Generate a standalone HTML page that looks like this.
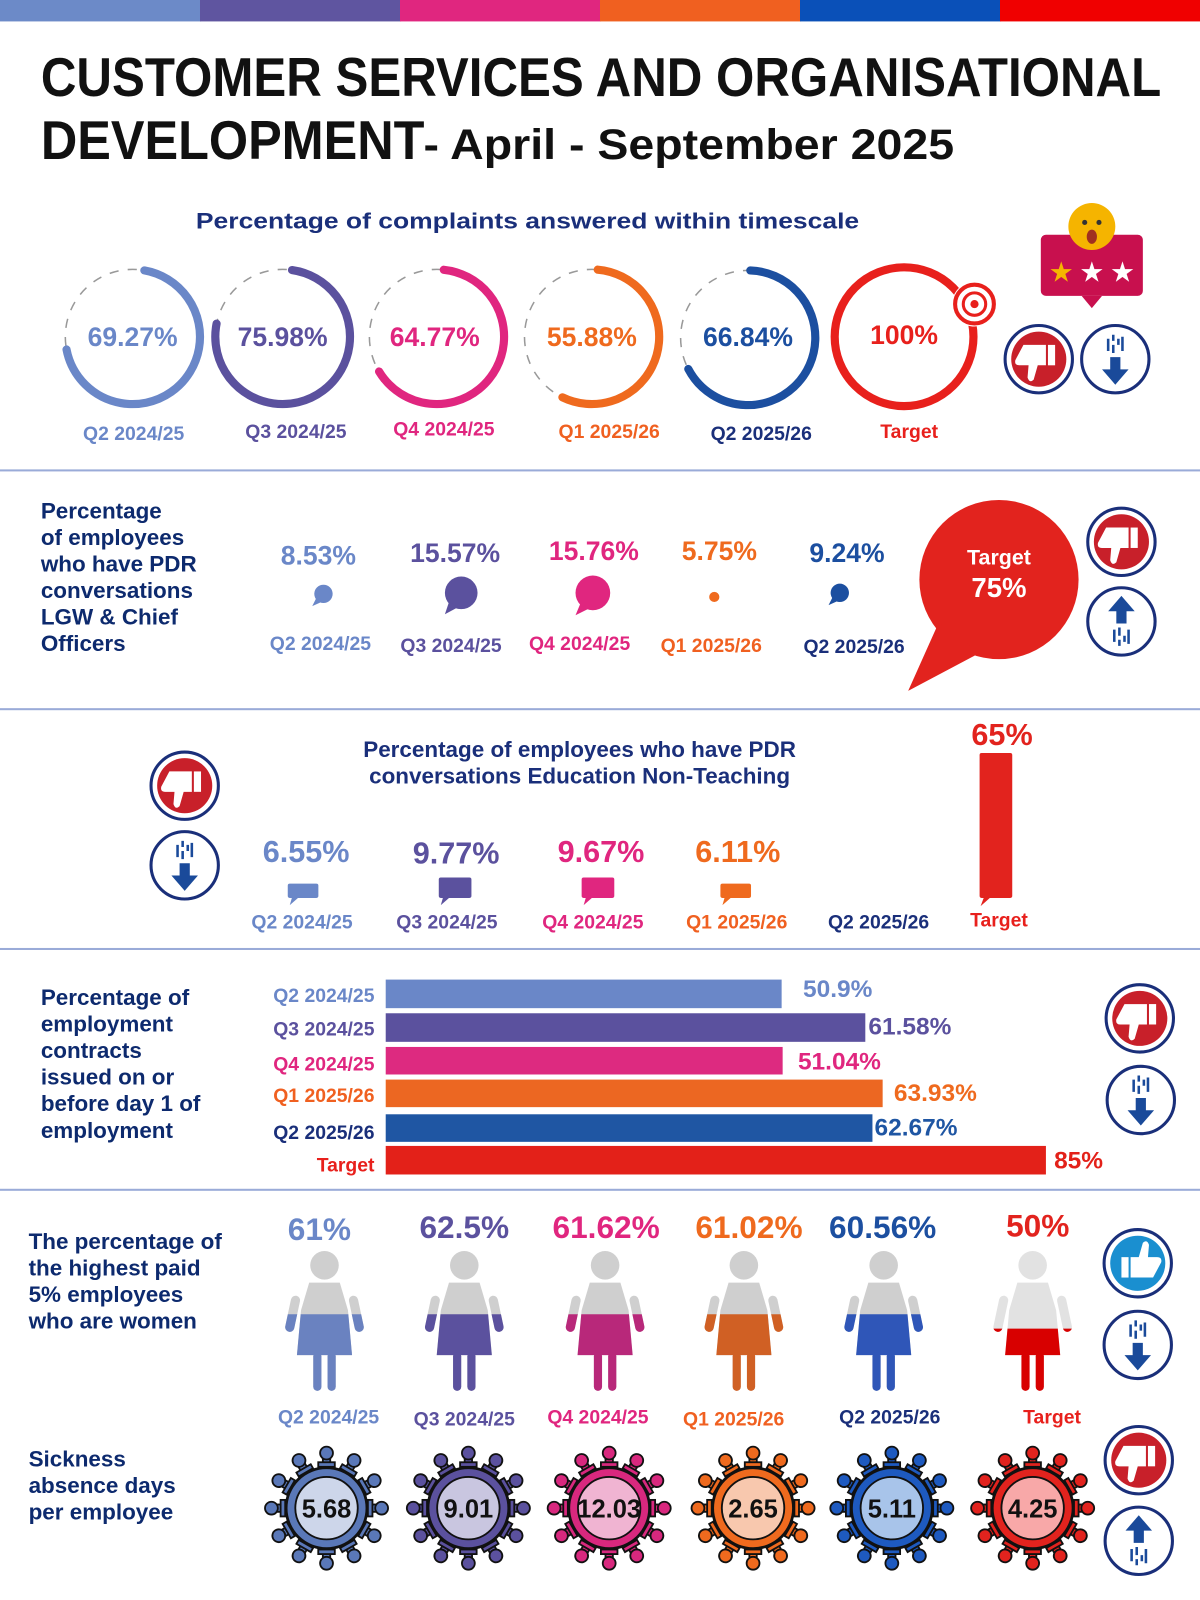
<!DOCTYPE html>
<html><head><meta charset="utf-8"><style>
html,body{margin:0;padding:0;background:#fff}
svg{display:block}
text{font-family:"Liberation Sans",sans-serif;font-weight:bold}
</style></head><body>
<svg width="1200" height="1600" viewBox="0 0 1176 1568" xmlns="http://www.w3.org/2000/svg">
<defs>
<g id="thd">
 <circle r="33" fill="#fff" stroke="#1a2f7a" stroke-width="3"/>
 <circle r="27" fill="#c8202a"/>
 <path d="M-15,-14 h22 v20 h-8 l-4,14 q-4,4 -6,-2 l1,-12 h-9 q-5,0 -4,-5 z" fill="#fff"/>
 <rect x="9" y="-14" width="7" height="20" fill="#fff"/>
</g>
<g id="thu">
 <circle r="33" fill="#fff" stroke="#1a2f7a" stroke-width="3"/>
 <circle r="27" fill="#1a8fd0"/>
 <g transform="rotate(180)"><path d="M-15,-14 h22 v20 h-8 l-4,14 q-4,4 -6,-2 l1,-12 h-9 q-5,0 -4,-5 z" fill="#fff"/>
 <rect x="9" y="-14" width="7" height="20" fill="#fff"/></g>
</g>
<g id="adn">
 <circle r="33" fill="#fff" stroke="#1a2f7a" stroke-width="3"/>
 <path d="M-5,-2 h10 v12 h8 l-13,15 l-13,-15 h8 z" fill="#1a4a9a"/>
 <path d="M-7,-20 v12 M-2,-24 v6 M-2,-14 v8 M3,-20 v6 M7,-22 v14" stroke="#1a4a9a" stroke-width="2.5"/>
</g>
<g id="aup">
 <circle r="33" fill="#fff" stroke="#1a2f7a" stroke-width="3"/>
 <path d="M-5,2 h10 v-12 h8 l-13,-15 l-13,15 h8 z" fill="#1a4a9a"/>
 <path d="M-7,20 v-12 M-2,24 v-6 M-2,14 v-8 M3,20 v-6 M7,22 v-14" stroke="#1a4a9a" stroke-width="2.5"/>
</g>
<g id="fig">
 <circle cx="0" cy="0" r="14"/>
 <path d="M-15,17 h30 l8,27 l4,44 h-54 l4,-44 z"/>
 <rect x="-32" y="30" width="9" height="36" rx="4.5" transform="rotate(12 -27 30)"/>
 <rect x="23" y="30" width="9" height="36" rx="4.5" transform="rotate(-12 27 30)"/>
 <rect x="-11" y="85" width="8" height="38" rx="4"/>
 <rect x="3" y="85" width="8" height="38" rx="4"/>
</g>
<clipPath id="cl"><rect x="-60" y="48" width="120" height="120"/></clipPath>
<clipPath id="cl2"><rect x="-60" y="62" width="120" height="120"/></clipPath>
<g id="spk"><rect x="-4" y="-58" width="8" height="20"/><circle cx="0" cy="-60" r="7"/><rect x="-9" y="-50" width="18" height="5"/></g>
<g id="vir">
 <use href="#spk"/><use href="#spk" transform="rotate(30)"/><use href="#spk" transform="rotate(60)"/><use href="#spk" transform="rotate(90)"/><use href="#spk" transform="rotate(120)"/><use href="#spk" transform="rotate(150)"/><use href="#spk" transform="rotate(180)"/><use href="#spk" transform="rotate(210)"/><use href="#spk" transform="rotate(240)"/><use href="#spk" transform="rotate(270)"/><use href="#spk" transform="rotate(300)"/><use href="#spk" transform="rotate(330)"/>
 <circle r="44" stroke="#111" stroke-width="3"/>
</g>
</defs>

<rect x="0" y="0" width="197" height="21" fill="#6c8ac8"/>
<rect x="196" y="0" width="197" height="21" fill="#5f55a0"/>
<rect x="392" y="0" width="197" height="21" fill="#e0267f"/>
<rect x="588" y="0" width="197" height="21" fill="#f06020"/>
<rect x="784" y="0" width="197" height="21" fill="#0a50b8"/>
<rect x="980" y="0" width="196" height="21" fill="#f00000"/>

<text x="40" y="94" font-size="54" fill="#111" textLength="1098" lengthAdjust="spacingAndGlyphs">CUSTOMER SERVICES AND ORGANISATIONAL</text>
<text x="40" y="156" font-size="54" fill="#111" textLength="376" lengthAdjust="spacingAndGlyphs">DEVELOPMENT</text>
<text x="415" y="156" font-size="42" fill="#111" textLength="520" lengthAdjust="spacingAndGlyphs">- April - September 2025</text>

<text x="517" y="224" font-size="22" fill="#1a2f7a" text-anchor="middle" textLength="650" lengthAdjust="spacingAndGlyphs">Percentage of complaints answered within timescale</text>
<g fill="none">
 <circle cx="130" cy="330" r="66" stroke="#999" stroke-width="1.5" stroke-dasharray="9 9"/>
 <circle cx="130" cy="330" r="66" stroke="#6a87c8" stroke-width="8" pathLength="100" stroke-dasharray="69.27 100" stroke-linecap="round" transform="rotate(-80 130 330)"/>
 <circle cx="277" cy="330" r="66" stroke="#999" stroke-width="1.5" stroke-dasharray="9 9"/>
 <circle cx="277" cy="330" r="66" stroke="#5b519e" stroke-width="8" pathLength="100" stroke-dasharray="75.98 100" stroke-linecap="round" transform="rotate(-82 277 330)"/>
 <circle cx="428" cy="330" r="66" stroke="#999" stroke-width="1.5" stroke-dasharray="9 9"/>
 <circle cx="428" cy="330" r="66" stroke="#e0267f" stroke-width="8" pathLength="100" stroke-dasharray="64.77 100" stroke-linecap="round" transform="rotate(-84 428 330)"/>
 <circle cx="580" cy="330" r="66" stroke="#999" stroke-width="1.5" stroke-dasharray="9 9"/>
 <circle cx="580" cy="330" r="66" stroke="#ef6a1e" stroke-width="8" pathLength="100" stroke-dasharray="55.88 100" stroke-linecap="round" transform="rotate(-85 580 330)"/>
 <circle cx="733" cy="331" r="66" stroke="#999" stroke-width="1.5" stroke-dasharray="9 9"/>
 <circle cx="733" cy="331" r="66" stroke="#1c4fa0" stroke-width="8" pathLength="100" stroke-dasharray="66.84 100" stroke-linecap="round" transform="rotate(-88 733 331)"/>
 <circle cx="886" cy="330" r="68" stroke="#e8201c" stroke-width="8"/>
</g>
<g font-size="26" text-anchor="middle">
 <text x="130" y="339" fill="#6a87c8">69.27%</text>
 <text x="277" y="339" fill="#5b519e">75.98%</text>
 <text x="426" y="339" fill="#e0267f">64.77%</text>
 <text x="580" y="339" fill="#ef6a1e">55.88%</text>
 <text x="733" y="339" fill="#1c4fa0">66.84%</text>
 <text x="886" y="337" fill="#e8201c">100%</text>
</g>
<g font-size="19" text-anchor="middle" font-weight="normal">
 <text x="131" y="431" fill="#6a87c8">Q2 2024/25</text>
 <text x="290" y="429" fill="#5b519e">Q3 2024/25</text>
 <text x="435" y="427" fill="#e0267f">Q4 2024/25</text>
 <text x="597" y="429" fill="#f06020">Q1 2025/26</text>
 <text x="746" y="431" fill="#1a2f7a">Q2 2025/26</text>
 <text x="891" y="429" fill="#e8201c">Target</text>
</g>
<circle cx="955" cy="298" r="22" fill="#fff"/>
<circle cx="955" cy="298" r="19" fill="none" stroke="#e8201c" stroke-width="4"/>
<circle cx="955" cy="298" r="11" fill="none" stroke="#e8201c" stroke-width="3"/>
<circle cx="955" cy="298" r="4" fill="#e8201c"/>
<rect x="1020" y="230" width="100" height="60" rx="5" fill="#c8104e"/>
<path d="M1060,290 l10,12 l10,-12 z" fill="#c8104e"/>
<circle cx="1070" cy="222" r="23" fill="#f5b400"/>
<circle cx="1063" cy="218" r="2.5" fill="#333"/><circle cx="1077" cy="218" r="2.5" fill="#333"/>
<ellipse cx="1070" cy="232" rx="5" ry="7" fill="#a03020"/>
<g font-size="24" text-anchor="middle"><text x="1040" y="275" fill="#f5b400">★</text><text x="1070" y="275" fill="#fff">★</text><text x="1100" y="275" fill="#fff">★</text></g>
<use href="#thd" x="1018" y="352"/>
<use href="#adn" x="1093" y="352"/>
<rect x="0" y="460" width="1176" height="2" fill="#9aabd8"/>

<g font-size="22" fill="#0d2a6e">
 <text x="40" y="508">Percentage</text>
 <text x="40" y="534">of employees</text>
 <text x="40" y="560">who have PDR</text>
 <text x="40" y="586">conversations</text>
 <text x="40" y="612">LGW &amp; Chief</text>
 <text x="40" y="638">Officers</text>
</g>
<g font-size="26" text-anchor="middle">
 <text x="312" y="553" fill="#6a87c8">8.53%</text>
 <text x="446" y="551" fill="#5b519e">15.57%</text>
 <text x="582" y="549" fill="#e0267f">15.76%</text>
 <text x="705" y="549" fill="#ef6a1e">5.75%</text>
 <text x="830" y="551" fill="#1c4fa0">9.24%</text>
</g>
<circle cx="317" cy="582" r="9" fill="#6a87c8"/><path d="M310,586 l-4,8 l9,-4z" fill="#6a87c8"/>
<circle cx="452" cy="581" r="16" fill="#5b519e"/><path d="M440,590 l-4,12 l13,-7z" fill="#5b519e"/>
<circle cx="581" cy="581" r="17" fill="#e0267f"/><path d="M569,591 l-5,12 l14,-7z" fill="#e0267f"/>
<circle cx="700" cy="585" r="5" fill="#ef6a1e"/>
<circle cx="823" cy="581" r="9" fill="#1c4fa0"/><path d="M816,585 l-4,8 l9,-4z" fill="#1c4fa0"/>
<g font-size="19" text-anchor="middle" font-weight="normal">
 <text x="314" y="637" fill="#6a87c8">Q2 2024/25</text>
 <text x="442" y="639" fill="#5b519e">Q3 2024/25</text>
 <text x="568" y="637" fill="#e0267f">Q4 2024/25</text>
 <text x="697" y="639" fill="#f06020">Q1 2025/26</text>
 <text x="837" y="640" fill="#1a2f7a">Q2 2025/26</text>
</g>
<circle cx="979" cy="568" r="78" fill="#e2231e"/>
<path d="M920,610 L890,677 L960,640 z" fill="#e2231e"/>
<text x="979" y="553" font-size="21" fill="#fff" text-anchor="middle" font-weight="normal">Target</text>
<text x="979" y="585" font-size="27" fill="#fff" text-anchor="middle">75%</text>
<use href="#thd" x="1099" y="531"/>
<use href="#aup" x="1099" y="609"/>
<rect x="0" y="694" width="1176" height="2" fill="#9aabd8"/>

<g font-size="22" fill="#1a2f7a" text-anchor="middle">
 <text x="568" y="742">Percentage of employees who have PDR</text>
 <text x="568" y="768">conversations Education Non-Teaching</text>
</g>
<use href="#thd" x="181" y="770"/>
<use href="#adn" x="181" y="848"/>
<g font-size="30" text-anchor="middle">
 <text x="300" y="845" fill="#6a87c8">6.55%</text>
 <text x="447" y="846" fill="#5b519e">9.77%</text>
 <text x="589" y="845" fill="#e0267f">9.67%</text>
 <text x="723" y="845" fill="#ef6a1e">6.11%</text>
 <text x="982" y="730" fill="#e2231e">65%</text>
</g>
<rect x="282" y="866" width="30" height="14" rx="2" fill="#6a87c8"/><path d="M286,880 l-2,7 l8,-7z" fill="#6a87c8"/>
<rect x="430" y="860" width="32" height="20" rx="2" fill="#5b519e"/><path d="M434,880 l-2,7 l8,-7z" fill="#5b519e"/>
<rect x="570" y="860" width="32" height="20" rx="2" fill="#e0267f"/><path d="M574,880 l-2,7 l8,-7z" fill="#e0267f"/>
<rect x="706" y="866" width="30" height="14" rx="2" fill="#ef6a1e"/><path d="M710,880 l-2,7 l8,-7z" fill="#ef6a1e"/>
<rect x="960" y="738" width="32" height="142" rx="2" fill="#e2231e"/><path d="M964,880 l-3,8 l9,-8z" fill="#e2231e"/>
<g font-size="19" text-anchor="middle" font-weight="normal">
 <text x="296" y="910" fill="#6a87c8">Q2 2024/25</text>
 <text x="438" y="910" fill="#5b519e">Q3 2024/25</text>
 <text x="581" y="910" fill="#e0267f">Q4 2024/25</text>
 <text x="722" y="910" fill="#f06020">Q1 2025/26</text>
 <text x="861" y="910" fill="#1a2f7a">Q2 2025/26</text>
 <text x="979" y="908" fill="#e8201c">Target</text>
</g>
<rect x="0" y="929" width="1176" height="2" fill="#9aabd8"/>

<g font-size="22" fill="#0d2a6e">
 <text x="40" y="985">Percentage of</text>
 <text x="40" y="1011">employment</text>
 <text x="40" y="1037">contracts</text>
 <text x="40" y="1063">issued on or</text>
 <text x="40" y="1089">before day 1 of</text>
 <text x="40" y="1115">employment</text>
</g>
<rect x="378" y="960" width="388" height="28" fill="#6a87c8"/>
<rect x="378" y="993" width="470" height="28" fill="#5b519e"/>
<rect x="378" y="1026" width="389" height="27" fill="#dd2a80"/>
<rect x="378" y="1058" width="487" height="27" fill="#ec6722"/>
<rect x="378" y="1092" width="477" height="27" fill="#1f56a3"/>
<rect x="378" y="1123" width="647" height="28" fill="#e32119"/>
<g font-size="19" text-anchor="end" font-weight="normal">
 <text x="367" y="982" fill="#6a87c8">Q2 2024/25</text>
 <text x="367" y="1015" fill="#5b519e">Q3 2024/25</text>
 <text x="367" y="1049" fill="#e0267f">Q4 2024/25</text>
 <text x="367" y="1080" fill="#f06020">Q1 2025/26</text>
 <text x="367" y="1116" fill="#1a2f7a">Q2 2025/26</text>
 <text x="367" y="1148" fill="#e8201c">Target</text>
</g>
<g font-size="24">
 <text x="787" y="977" fill="#6a87c8">50.9%</text>
 <text x="851" y="1014" fill="#5b519e">61.58%</text>
 <text x="782" y="1048" fill="#e0267f">51.04%</text>
 <text x="876" y="1079" fill="#ef6a1e">63.93%</text>
 <text x="857" y="1113" fill="#1f56a3">62.67%</text>
 <text x="1033" y="1145" fill="#e32119">85%</text>
</g>
<use href="#thd" x="1117" y="998"/>
<use href="#adn" x="1118" y="1078"/>
<rect x="0" y="1165" width="1176" height="2" fill="#9aabd8"/>

<g font-size="22" fill="#0d2a6e">
 <text x="28" y="1224">The percentage of</text>
 <text x="28" y="1250">the highest paid</text>
 <text x="28" y="1276">5% employees</text>
 <text x="28" y="1302">who are women</text>
</g>
<g font-size="31" text-anchor="middle">
 <text x="313" y="1215" fill="#6a87c8">61%</text>
 <text x="455" y="1213" fill="#5b519e">62.5%</text>
 <text x="594" y="1213" fill="#e0267f">61.62%</text>
 <text x="734" y="1213" fill="#ef6a1e">61.02%</text>
 <text x="865" y="1213" fill="#1c4fa0">60.56%</text>
 <text x="1017" y="1212" fill="#e2231e">50%</text>
</g>
<g transform="translate(318,1240)"><use href="#fig" fill="#cfcfcf"/><use href="#fig" fill="#6a82c0" clip-path="url(#cl)"/></g>
<g transform="translate(455,1240)"><use href="#fig" fill="#cfcfcf"/><use href="#fig" fill="#5b519e" clip-path="url(#cl)"/></g>
<g transform="translate(593,1240)"><use href="#fig" fill="#cfcfcf"/><use href="#fig" fill="#b8287a" clip-path="url(#cl)"/></g>
<g transform="translate(729,1240)"><use href="#fig" fill="#cfcfcf"/><use href="#fig" fill="#d06024" clip-path="url(#cl)"/></g>
<g transform="translate(866,1240)"><use href="#fig" fill="#cfcfcf"/><use href="#fig" fill="#2f56b8" clip-path="url(#cl)"/></g>
<g transform="translate(1012,1240)"><use href="#fig" fill="#e2e2e2"/><use href="#fig" fill="#d80000" clip-path="url(#cl2)"/></g>
<g font-size="19" text-anchor="middle" font-weight="normal">
 <text x="322" y="1395" fill="#6a87c8">Q2 2024/25</text>
 <text x="455" y="1397" fill="#5b519e">Q3 2024/25</text>
 <text x="586" y="1395" fill="#e0267f">Q4 2024/25</text>
 <text x="719" y="1397" fill="#f06020">Q1 2025/26</text>
 <text x="872" y="1395" fill="#1a2f7a">Q2 2025/26</text>
 <text x="1031" y="1395" fill="#e8201c">Target</text>
</g>
<use href="#thu" x="1115" y="1238"/>
<use href="#adn" x="1115" y="1318"/>

<g font-size="22" fill="#0d2a6e">
 <text x="28" y="1437">Sickness</text>
 <text x="28" y="1463">absence days</text>
 <text x="28" y="1489">per employee</text>
</g>
<g transform="translate(320,1478) scale(0.9)"><use href="#vir" fill="#5a78b8" stroke="#111" stroke-width="2"/><circle r="34" fill="#cdd6ea" stroke="#111" stroke-width="2"/></g>
<g transform="translate(459,1478) scale(0.9)"><use href="#vir" fill="#5b519e" stroke="#111" stroke-width="2"/><circle r="34" fill="#c9c6e0" stroke="#111" stroke-width="2"/></g>
<g transform="translate(597,1478) scale(0.9)"><use href="#vir" fill="#d8287e" stroke="#111" stroke-width="2"/><circle r="34" fill="#f0b4d2" stroke="#111" stroke-width="2"/></g>
<g transform="translate(738,1478) scale(0.9)"><use href="#vir" fill="#ef6a1e" stroke="#111" stroke-width="2"/><circle r="34" fill="#f8c8ae" stroke="#111" stroke-width="2"/></g>
<g transform="translate(874,1478) scale(0.9)"><use href="#vir" fill="#1e5ac0" stroke="#111" stroke-width="2"/><circle r="34" fill="#a8c4ea" stroke="#111" stroke-width="2"/></g>
<g transform="translate(1012,1478) scale(0.9)"><use href="#vir" fill="#e2231e" stroke="#111" stroke-width="2"/><circle r="34" fill="#f8a8a8" stroke="#111" stroke-width="2"/></g>
<g font-size="25" text-anchor="middle" fill="#111" font-weight="normal">
 <text x="320" y="1487">5.68</text>
 <text x="459" y="1487">9.01</text>
 <text x="597" y="1487">12.03</text>
 <text x="738" y="1487">2.65</text>
 <text x="874" y="1487">5.11</text>
 <text x="1012" y="1487">4.25</text>
</g>
<use href="#thd" x="1116" y="1431"/>
<use href="#aup" x="1116" y="1510"/>
</svg>
</body></html>
